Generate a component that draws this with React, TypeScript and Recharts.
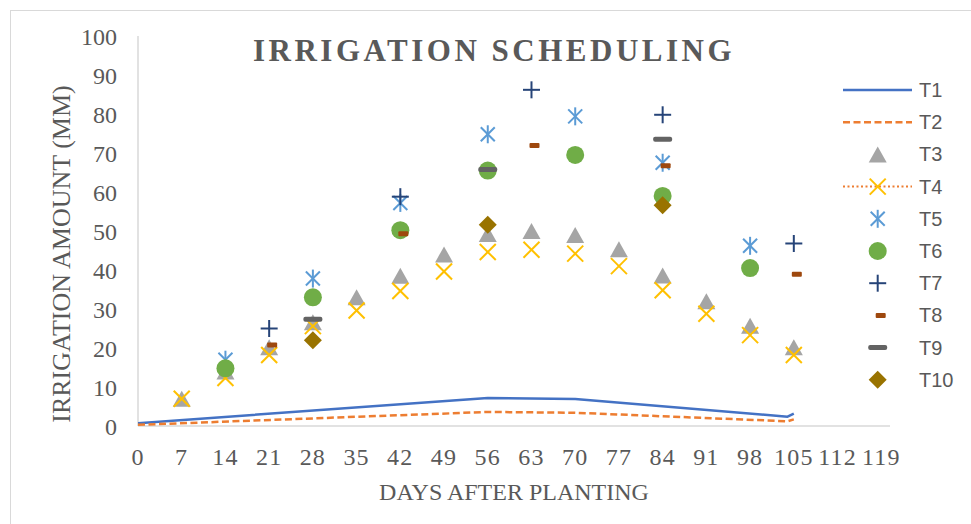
import React from 'react';
import { ScatterChart, Scatter, XAxis, YAxis } from 'recharts';

const dayTicks = [0, 7, 14, 21, 28, 35, 42, 49, 56, 63, 70, 77, 84, 91, 98, 105, 112, 119];
const amountTicks = [0, 10, 20, 30, 40, 50, 60, 70, 80, 90, 100];

// T1 / T2 are lines, the rest are markers only
const t1Days = [0, 56, 70, 104, 105];
const t1Values = [0.7, 7.2, 6.9, 2.4, 3.2];
const t2Days = [0, 56, 70, 104, 105];
const t2Values = [0.3, 3.6, 3.4, 1.2, 1.7];

const weeklyDays = [7, 14, 21, 28, 35, 42, 49, 56, 63, 70, 77, 84, 91, 98, 105];
const t3Values = [7, 14, 20.2, 26.6, 33, 38.5, 44, 49.2, 50, 49, 45.3, 38.6, 32, 25.7, 20.2];
const t4Values = [7, 12.3, 18.2, 25.6, 29.6, 34.6, 39.6, 44.6, 45.2, 44.2, 41, 34.8, 28.8, 23.3, 18.2];

const biweeklyDays = [14, 28, 42, 56, 70, 84, 98];
const t5Values = [17, 37.8, 57.2, 74.8, 79.4, 67.5, 46.2];
const t6Values = [14.8, 33, 50.2, 65.5, 69.5, 59, 40.5];

const threeWeekDays = [21, 42, 63, 84, 105];
const t7Values = [25, 58.8, 86.2, 79.8, 46.8];
const t8Values = [20.8, 49.3, 71.9, 66.7, 38.9];

const fourWeekDays = [28, 56, 84];
const t9Values = [27.4, 65.8, 73.5];
const t10Values = [22, 51.6, 56.6];

const pts = (days: number[], vals: number[]) => days.map((x, i) => ({ x, y: vals[i] }));

const TEXT = '#595959';
const SERIF = '"Liberation Serif", "Times New Roman", serif';

type MarkFn = (cx: number, cy: number) => React.ReactElement;

const marks: Record<string, MarkFn> = {
  triangle: (cx, cy) => (
    <polygon points={`${cx - 9},${cy + 8} ${cx + 9},${cy + 8} ${cx},${cy - 8}`} fill="#A5A5A5" />
  ),
  cross: (cx, cy) => (
    <g stroke="#FFC000" strokeWidth={2}>
      <line x1={cx - 8} y1={cy - 8} x2={cx + 8} y2={cy + 8} />
      <line x1={cx - 8} y1={cy + 8} x2={cx + 8} y2={cy - 8} />
    </g>
  ),
  star: (cx, cy) => (
    <g stroke="#5B9BD5" strokeWidth={2}>
      <line x1={cx - 7} y1={cy - 7} x2={cx + 7} y2={cy + 7} />
      <line x1={cx - 7} y1={cy + 7} x2={cx + 7} y2={cy - 7} />
      <line x1={cx} y1={cy - 9} x2={cx} y2={cy + 9} />
    </g>
  ),
  circle: (cx, cy) => <circle cx={cx} cy={cy} r={9} fill="#70AD47" />,
  plus: (cx, cy) => (
    <g stroke="#264478" strokeWidth={2}>
      <line x1={cx - 8.5} y1={cy} x2={cx + 8.5} y2={cy} />
      <line x1={cx} y1={cy - 8.5} x2={cx} y2={cy + 8.5} />
    </g>
  ),
  shortDash: (cx, cy) => <rect x={cx - 2} y={cy - 2.5} width={10} height={5} rx={1} fill="#9E480E" />,
  longDash: (cx, cy) => <rect x={cx - 9.5} y={cy - 2.5} width={19} height={5} rx={2} fill="#636363" />,
  diamond: (cx, cy) => (
    <polygon points={`${cx},${cy - 9} ${cx + 9},${cy} ${cx},${cy + 9} ${cx - 9},${cy}`} fill="#997300" />
  ),
};

const shapeOf = (kind: string) => (props: any) => {
  if (props.cx == null || props.cy == null) return <g />;
  return marks[kind](props.cx, props.cy);
};

const markerSeries = [
  { name: 'T3', data: pts(weeklyDays, t3Values), kind: 'triangle' },
  { name: 'T4', data: pts(weeklyDays, t4Values), kind: 'cross' },
  { name: 'T5', data: pts(biweeklyDays, t5Values), kind: 'star' },
  { name: 'T6', data: pts(biweeklyDays, t6Values), kind: 'circle' },
  { name: 'T7', data: pts(threeWeekDays, t7Values), kind: 'plus' },
  { name: 'T8', data: pts(threeWeekDays, t8Values), kind: 'shortDash' },
  { name: 'T9', data: pts(fourWeekDays, t9Values), kind: 'longDash' },
  { name: 'T10', data: pts(fourWeekDays, t10Values), kind: 'diamond' },
];

const legendItems = [
  { name: 'T1', line: { stroke: '#4472C4', strokeWidth: 2.5 } },
  { name: 'T2', line: { stroke: '#ED7D31', strokeWidth: 2.5, strokeDasharray: '7 3.5' } },
  { name: 'T3', kind: 'triangle' },
  { name: 'T4', kind: 'cross', line: { stroke: '#ED7D31', strokeWidth: 2, strokeDasharray: '2 2.5' } },
  { name: 'T5', kind: 'star' },
  { name: 'T6', kind: 'circle' },
  { name: 'T7', kind: 'plus' },
  { name: 'T8', kind: 'shortDash' },
  { name: 'T9', kind: 'longDash' },
  { name: 'T10', kind: 'diamond' },
];

const tickStyle = { fill: TEXT, fontSize: 24, fontFamily: SERIF };

export default function App() {
  return (
    <div style={{ position: 'absolute', left: 0, top: 0, width: 971, height: 524, overflow: 'hidden', background: '#fff' }}>
      <div style={{ position: 'absolute', left: 10, top: 10, width: 1000, height: 600, border: '1px solid #d9d9d9' }} />
      <div style={{ position: 'absolute', left: 0, top: 0 }}>
        <ScatterChart width={971} height={524} margin={{ top: 36, right: 81, bottom: 38, left: 0 }}>
          <XAxis
            type="number"
            dataKey="x"
            domain={[0, 120.4]}
            ticks={dayTicks}
            interval={0}
            tick={{ ...tickStyle, letterSpacing: 1.2 }}
            tickLine={false}
            tickMargin={16}
            axisLine={{ stroke: '#d9d9d9', strokeWidth: 1.5 }}
            height={60}
            allowDataOverflow
          />
          <YAxis
            type="number"
            dataKey="y"
            domain={[0, 100]}
            ticks={amountTicks}
            interval={0}
            tick={tickStyle}
            tickLine={false}
            tickMargin={15}
            axisLine={{ stroke: '#d9d9d9', strokeWidth: 1.5 }}
            width={138}
          />
          <Scatter
            name="T1"
            data={pts(t1Days, t1Values)}
            fill="#4472C4"
            line={{ stroke: '#4472C4', strokeWidth: 2.5, strokeLinejoin: 'round' }}
            shape={() => <g />}
            isAnimationActive={false}
          />
          <Scatter
            name="T2"
            data={pts(t2Days, t2Values)}
            fill="#ED7D31"
            line={{ stroke: '#ED7D31', strokeWidth: 2.5, strokeDasharray: '7 3.5' }}
            shape={() => <g />}
            isAnimationActive={false}
          />
          {markerSeries.map((s) => (
            <Scatter key={s.name} name={s.name} data={s.data} shape={shapeOf(s.kind)} isAnimationActive={false} />
          ))}
        </ScatterChart>
      </div>
      <svg width={971} height={524} style={{ position: 'absolute', left: 0, top: 0, pointerEvents: 'none' }}>
        <text x={494} y={61} textAnchor="middle" fill={TEXT} fontFamily={SERIF} fontWeight="bold" fontSize={31} letterSpacing={3.5}>
          IRRIGATION SCHEDULING
        </text>
        <text transform="translate(70,254) rotate(-90)" textAnchor="middle" fill={TEXT} fontFamily={SERIF} fontSize={26}>
          IRRIGATION AMOUNT (MM)
        </text>
        <text x={514} y={500} textAnchor="middle" fill={TEXT} fontFamily={SERIF} fontSize={24}>
          DAYS AFTER PLANTING
        </text>
        {legendItems.map((item, i) => {
          const y = 90 + i * 32.2;
          return (
            <g key={item.name}>
              {item.line && <line x1={843} x2={912} y1={y} y2={y} {...item.line} />}
              {item.kind && marks[item.kind](877.7, y)}
              <text x={919} y={y} dominantBaseline="central" fill={TEXT} fontFamily='"Liberation Sans", Arial, sans-serif' fontSize={20}>
                {item.name}
              </text>
            </g>
          );
        })}
      </svg>
    </div>
  );
}
